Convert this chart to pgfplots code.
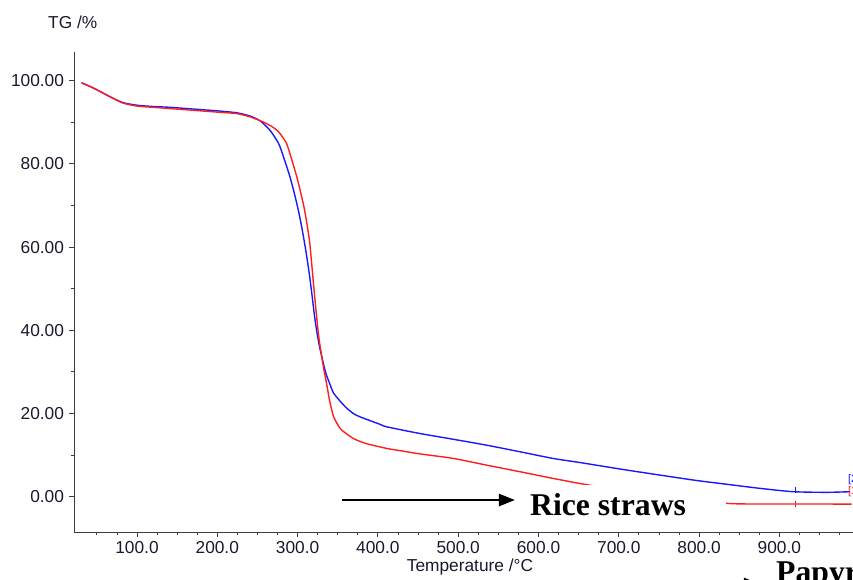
\documentclass[border=0pt]{standalone}
\usepackage{pgfplots}
\pgfplotsset{compat=1.18}
\usetikzlibrary{arrows.meta}
\usepackage{fontspec}
\setmainfont{Liberation Sans}
\newfontfamily\timesfont{Liberation Serif}

\definecolor{tgblue}{RGB}{25,25,255}
\definecolor{tgred}{RGB}{255,30,30}
\definecolor{axisgray}{RGB}{60,60,60}
\definecolor{labelink}{RGB}{25,25,45}

\begin{document}
\begin{tikzpicture}
\begin{axis}[
  x=0.803bp, y=4.16bp,
  xmin=21.5, xmax=1010, ymin=-8.5, ymax=106.8,
  axis x line=bottom, axis y line=left,
  axis line style={-, draw=axisgray, line width=0.9bp},
  tick align=outside,
  tick style={draw=axisgray, line width=0.8bp},
  major tick length=4.5bp, minor tick length=3bp,
  xtick={100,200,...,900},
  minor xtick={50,75,...,975},
  ytick={0,20,...,100},
  minor ytick={10,30,...,90},
  /pgf/number format/assume math mode=true,
  ticklabel style={font=\fontsize{17.3bp}{20bp}\selectfont, text=labelink},
  xticklabel style={yshift=-1bp, /pgf/number format/.cd, fixed, fixed zerofill, precision=1},
  yticklabel style={xshift=-2bp, /pgf/number format/.cd, fixed, fixed zerofill, precision=2},
  clip=false,
]
% papyrus
\addplot[tgblue, line width=1.4bp, smooth, tension=0.4] coordinates {
 (31,99.5) (45,98.3) (58,97.0) (70,95.8) (83,94.7) (100,94.1) (120,93.8)
 (141,93.6) (183,93.0) (203,92.7) (224,92.3) (241,91.5) (252,90.5)
 (258,89.6) (266,88.0) (274,85.7) (278,84.2) (284,80.8) (290.5,76.9)
 (296,72.9) (301,68.8) (305,65.0) (309,60.6) (312,57.0) (315,53.0)
 (318,48.4) (321,43.6) (324,39.6) (327,36.4) (330,33.8) (333,31.3)
 (336,29.2) (340,27.2) (344.5,25.0) (352.8,23.0) (360,21.5) (369.4,20.0)
 (377.7,19.2) (402.6,17.4) (411,16.8) (452,15.2) (494,13.8) (535,12.4)
 (577,10.8) (618,9.2) (652,8.2) (710,6.4) (793,4.0) (834,3.0) (876,2.0)
 (917,1.2) (959,1.05) (988,1.2)
};
% rice straws
\addplot[tgred, line width=1.4bp, smooth, tension=0.4] coordinates {
 (31,99.5) (45,98.3) (58,97.0) (70,95.8) (83,94.6) (100,93.9) (120,93.6)
 (141,93.3) (183,92.7) (203,92.4) (224,92.1) (241,91.3) (257,90.1)
 (266,89.2) (276,87.8) (286,85.0) (292,81.5) (299,76.9) (304,73.0)
 (308,69.6) (312,65.2) (315,61.3) (317,57.2) (319,52.9) (321,48.7)
 (323,44.7) (325,40.8) (327,37.5) (329,35.0) (331,32.5) (333.5,29.8)
 (336,27.3) (340,23.0) (344.5,19.4) (350,17.3) (355,16.0) (369.4,14.0)
 (385,12.8) (411,11.6) (430,11.0) (452,10.3) (494,9.2) (535,7.6)
 (577,6.0) (618,4.4) (652,3.15) (666,2.7) (700,1.6) (750,0.3) (800,-0.8)
 (834,-1.6) (860,-1.75) (900,-1.75) (950,-1.75) (990,-1.8)
};
\addplot[tgblue, only marks, mark=|, mark size=3bp, line width=0.8bp] coordinates {(920,1.7)};
\addplot[tgred, only marks, mark=|, mark size=3bp, line width=0.8bp] coordinates {(920,-1.75)};

% curve tags
\node[anchor=west, inner sep=0pt, text=tgblue, font=\fontsize{11bp}{12bp}\selectfont] at (axis cs:985.4,4.0) {[2]};
\node[anchor=west, inner sep=0pt, text=tgred, font=\fontsize{11bp}{12bp}\selectfont] at (axis cs:985.4,1.1) {[1]};

% sample labels
\fill[white] (axis cs:577,-6.5) rectangle (axis cs:834,2.75);
\draw[-{Triangle[length=16bp,width=12bp]}, line width=2.5bp] (axis cs:355.3,-0.8) -- (axis cs:570.7,-0.8);
\node[anchor=base west, inner sep=0pt, font=\timesfont\bfseries\fontsize{31.7bp}{36bp}\selectfont] at (axis cs:589.4,-4.5) {Rice straws};
\draw[-{Triangle[length=16bp,width=12bp]}, line width=2.5bp] (axis cs:645.5,-21.0) -- (axis cs:875.8,-21.0);
\node[anchor=base west, inner sep=0pt, font=\timesfont\bfseries\fontsize{31.7bp}{36bp}\selectfont] at (axis cs:895.8,-20.7) {Papyrus};

% axis titles
\node[anchor=west, inner sep=0pt, text=labelink, font=\fontsize{17.3bp}{20bp}\selectfont] at (axis cs:-10.8,114.1) {TG /\%};
\node[inner sep=0pt, text=labelink, font=\fontsize{17.3bp}{20bp}\selectfont] at (axis cs:514.7,-16.8) {Temperature /°C};

\coordinate (BL) at (axis cs:-70.6,-19.8);
\coordinate (TR) at (axis cs:991.7,119.4);
\end{axis}
\pgfresetboundingbox
\useasboundingbox (BL) rectangle (TR);
\end{tikzpicture}
\end{document}
